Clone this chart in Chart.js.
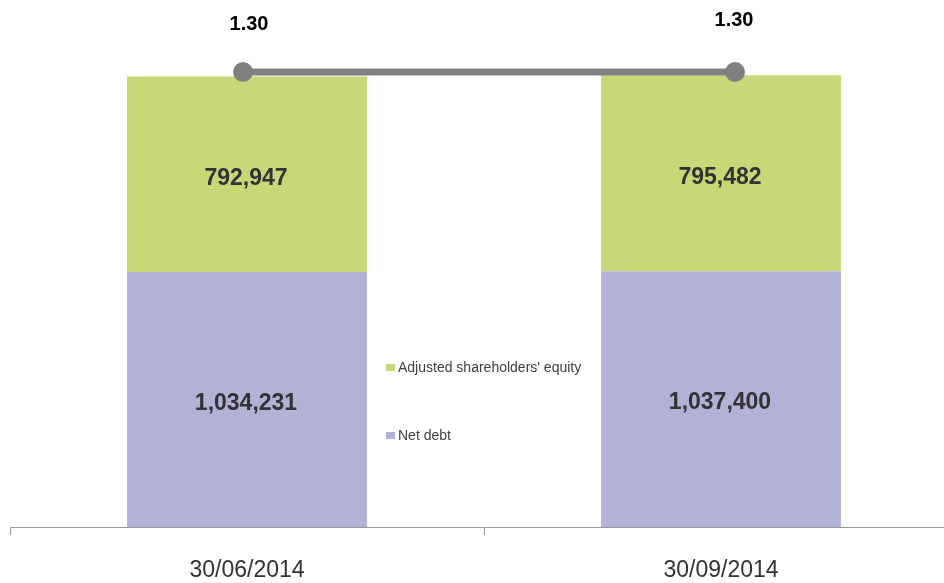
<!DOCTYPE html>
<html>
<head>
<meta charset="utf-8">
<script src="https://cdn.jsdelivr.net/npm/chart.js@4.4.1/dist/chart.umd.min.js"></script>
<style>
  html, body { margin: 0; padding: 0; background: #fff; overflow: hidden; }
  #wrap { width: 968px; height: 583px; }
</style>
</head>
<body>
<div id="wrap"><canvas id="gearing-chart"></canvas></div>
<script>
const dates = ['30/06/2014', '30/09/2014'];
const netDebt = [1034231, 1037400];
const equity = [792947, 795482];
const gearing = [1.30, 1.30];

const GREEN = '#C8D878';
const PURPLE = '#B2B2D6';
const GREY = '#808080';

const fmt = n => n.toLocaleString('en-US');

// value labels inside the bars and above the ratio points
const labelPlugin = {
  id: 'labels',
  afterDatasetsDraw(chart) {
    const ctx = chart.ctx;
    ctx.save();
    ctx.textAlign = 'center';
    ctx.textBaseline = 'middle';
    ctx.font = 'bold 23px "Liberation Sans", Arial, sans-serif';
    ctx.fillStyle = '#333333';
    [0, 1].forEach(di => {
      const meta = chart.getDatasetMeta(di);
      meta.data.forEach((bar, i) => {
        const c = bar.getCenterPoint();
        ctx.fillText(fmt(chart.data.datasets[di].data[i]), c.x - 1, c.y + 4);
      });
    });
    const lineMeta = chart.getDatasetMeta(2);
    const lift = [48, 52];
    const shift = [6, -1];
    ctx.font = 'bold 20px "Liberation Sans", Arial, sans-serif';
    ctx.fillStyle = '#000';
    lineMeta.data.forEach((pt, i) => {
      ctx.fillText(gearing[i].toFixed(2), pt.x + shift[i], pt.y - lift[i]);
    });
    ctx.restore();
  }
};

// legend sitting between the two columns
const legendPlugin = {
  id: 'sideLegend',
  afterDraw(chart) {
    const ctx = chart.ctx;
    const items = [
      { text: "Adjusted shareholders' equity", color: GREEN, y: 368 },
      { text: 'Net debt', color: PURPLE, y: 436 }
    ];
    ctx.save();
    ctx.font = '14px "Liberation Sans", Arial, sans-serif';
    ctx.textBaseline = 'middle';
    ctx.textAlign = 'left';
    items.forEach(it => {
      ctx.fillStyle = it.color;
      ctx.fillRect(386, it.y - 4, 9, 7);
      ctx.fillStyle = '#404040';
      ctx.fillText(it.text, 398, it.y);
    });
    ctx.restore();
  }
};

new Chart(document.getElementById('gearing-chart'), {
  type: 'bar',
  data: {
    labels: dates,
    datasets: [
      {
        label: 'Net debt',
        data: netDebt,
        backgroundColor: PURPLE,
        grouped: false,
        categoryPercentage: 1,
        barPercentage: 0.506,
        order: 2
      },
      {
        label: "Adjusted shareholders' equity",
        data: equity,
        backgroundColor: GREEN,
        grouped: false,
        categoryPercentage: 1,
        barPercentage: 0.506,
        order: 2
      },
      {
        type: 'line',
        label: 'Gearing',
        data: gearing.map((v, i) => ({ x: i, y: v })),
        xAxisID: 'xLine',
        yAxisID: 'yRatio',
        borderColor: GREY,
        backgroundColor: GREY,
        borderWidth: 7,
        pointRadius: 10,
        pointBorderWidth: 0,
        pointBackgroundColor: GREY,
        order: 1
      }
    ]
  },
  options: {
    responsive: true,
    maintainAspectRatio: false,
    animation: false,
    layout: { padding: { top: 34, left: 10, right: 2, bottom: 1 } },
    plugins: {
      legend: { display: false },
      tooltip: { enabled: false }
    },
    scales: {
      x: {
        stacked: true,
        offset: true,
        grid: {
          offset: true,
          drawOnChartArea: false,
          drawTicks: true,
          tickLength: 8,
          color: '#999'
        },
        border: { color: '#999', width: 1 },
        ticks: {
          color: '#333',
          padding: 22,
          font: { family: '"Liberation Sans", Arial, sans-serif', size: 23 }
        },
        afterFit: s => { s.height = 55; }
      },
      xLine: {
        type: 'linear',
        display: false,
        offset: false,
        min: -0.4736,
        max: 1.4533
      },
      y: {
        stacked: true,
        display: false,
        min: 0,
        max: 2000000
      },
      yRatio: {
        display: false,
        min: 0,
        max: 1.4086
      }
    }
  },
  plugins: [labelPlugin, legendPlugin]
});
</script>
</body>
</html>
